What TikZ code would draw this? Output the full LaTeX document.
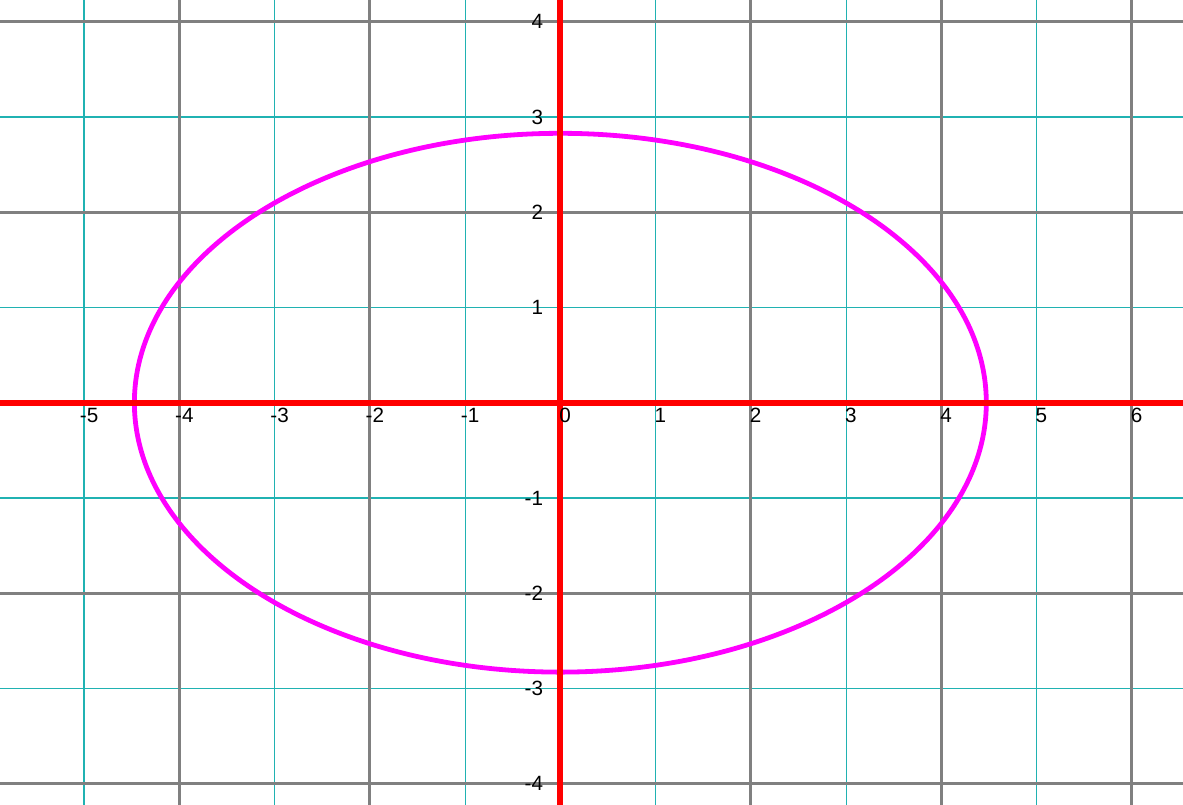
\documentclass[tikz,border=0pt]{standalone}
\usepackage{fontspec}
\setmainfont{Liberation Sans}
\definecolor{gridcyan}{RGB}{32,178,178}
\definecolor{gridgray}{RGB}{128,128,128}
\definecolor{axisred}{RGB}{255,0,0}
\definecolor{curvemag}{RGB}{255,0,255}
\tikzset{
  minorgrid/.style={draw=gridcyan, line width=0.9pt},
  majorgrid/.style={draw=gridgray, line width=2.4pt},
  axisline/.style={draw=axisred, line width=4.4pt},
  curve/.style={draw=curvemag, line width=3.6pt},
  lab/.style={inner sep=0pt, font=\fontsize{15.5}{17}\selectfont, text=black},
  xlab/.style={lab, anchor=north west, yshift=-3.9pt},
  ylab/.style={lab, anchor=east, xshift=-12.8pt},
}
\begin{document}
\begin{tikzpicture}[x=71.4375pt,y=71.4375pt]
\useasboundingbox (-5.883,-4.223) rectangle (6.537,4.228);
\clip (-5.883,-4.223) rectangle (6.537,4.228);
% minor grid
\foreach \v in {-5,-3,-1,1,3,5} \draw[minorgrid] (\v,-4.3) -- (\v,4.3);
\foreach \v in {-3,-1,1,3} \draw[minorgrid] (-6,\v) -- (6.6,\v);
% major grid
\foreach \v in {-4,-2,2,4,6} \draw[majorgrid] (\v,-4.3) -- (\v,4.3);
\foreach \v in {-4,-2,2,4} \draw[majorgrid] (-6,\v) -- (6.6,\v);
% ellipse x^2/20 + y^2/8 = 1
\draw[curve] (0,0) ellipse [x radius=4.4721, y radius=2.8284];
% axes
\coordinate (xa) at (-6,0);
\coordinate (xb) at (6.6,0);
\coordinate (ya) at (0,-4.3);
\coordinate (yb) at (0,4.3);
\draw[axisline] (xa) -- (xb);
\draw[axisline] (ya) -- (yb);
% x labels
\foreach \v [count=\i] in {-5,-4,-3,-2,-1} \node[xlab, xshift=-3.3pt] (xn\i) at (\v,0) {\v};
\foreach \v [count=\i] in {0,1,2,3,4,5,6} \node[xlab, xshift=-0.9pt] (xp\i) at (\v,0) {\v};
% y labels
\foreach \v [count=\i] in {1,2,3,4,-1,-2,-3,-4} \node[ylab] (yl\i) at (0,\v) {\v};
\end{tikzpicture}
\end{document}
